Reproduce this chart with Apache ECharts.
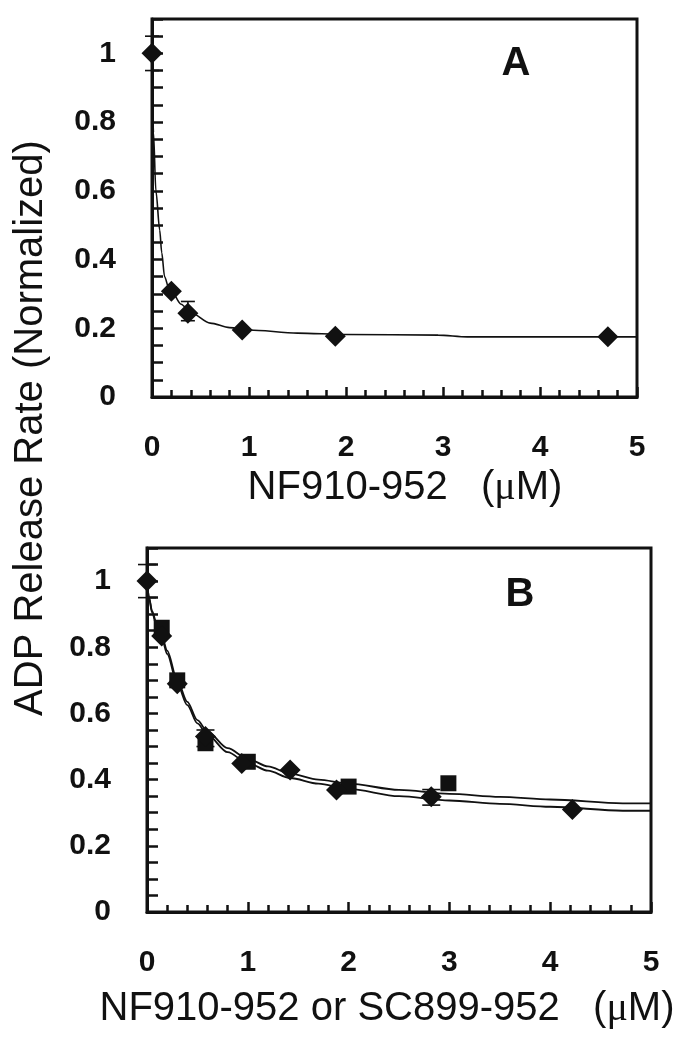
<!DOCTYPE html>
<html>
<head>
<meta charset="utf-8">
<script src="https://cdn.jsdelivr.net/npm/echarts@6/dist/echarts.min.js"></script>
<style>
  html, body { margin: 0; padding: 0; background: #fff; }
  #chart { width: 690px; height: 1050px; }
</style>
</head>
<body>
<div id="chart"></div>
<script>
// ---------- data ----------
const xTicks = [0, 1, 2, 3, 4, 5];
const yTicks = [0, 0.2, 0.4, 0.6, 0.8, 1];

// Panel A: NF910-952
const aPtsX = [0, 0.2, 0.37, 0.93, 1.89, 4.70];
const aPtsY = [1.0, 0.308, 0.244, 0.195, 0.177, 0.175];
const aErrX = [0, 0.37];
const aErrLo = [0.95, 0.222];
const aErrHi = [1.05, 0.278];
const aFitX = [0, 0.015, 0.04, 0.08, 0.1, 0.13, 0.17, 0.2, 0.3, 0.4, 0.6, 0.8, 1.0, 1.5, 2.0, 2.95, 3.25, 5.0];
const aFitY = [1.0, 0.77, 0.6, 0.485, 0.42, 0.35, 0.32, 0.308, 0.27, 0.245, 0.215, 0.202, 0.195, 0.186, 0.182, 0.18, 0.175, 0.175];

// Panel B: NF910-952 (diamonds) and SC899-952 (squares)
const bDiaX = [0, 0.146, 0.30, 0.58, 0.94, 1.42, 1.88, 2.82, 4.22];
const bDiaY = [1.0, 0.834, 0.69, 0.53, 0.449, 0.429, 0.369, 0.348, 0.310];
const bSqX = [0.146, 0.30, 0.58, 1.0, 2.0, 2.99];
const bSqY = [0.859, 0.70, 0.51, 0.454, 0.379, 0.389];
const bErrX = [0, 0.58, 2.82];
const bErrLo = [0.95, 0.50, 0.323];
const bErrHi = [1.05, 0.55, 0.37];
const bFitX = [0, 0.02, 0.05, 0.1, 0.15, 0.2, 0.3, 0.4, 0.5, 0.6, 0.8, 1.0, 1.2, 1.42, 1.7, 2.0, 2.5, 3.0, 3.5, 4.0, 4.72, 5.0];
const bFitUpperY = [1.0, 0.95, 0.91, 0.865, 0.83, 0.79, 0.70, 0.635, 0.58, 0.545, 0.495, 0.463, 0.44, 0.418, 0.40, 0.388, 0.369, 0.357, 0.348, 0.340, 0.328, 0.328];
const bFitLowerY = [1.0, 0.95, 0.905, 0.86, 0.825, 0.78, 0.69, 0.625, 0.57, 0.535, 0.483, 0.45, 0.427, 0.405, 0.388, 0.372, 0.350, 0.337, 0.327, 0.318, 0.306, 0.306];

// ---------- helpers ----------
const INK = '#111';
const FONT = '"Liberation Sans", Arial, Helvetica, sans-serif';
const zip = (xs, ys) => xs.map((x, i) => [x, ys[i]]);
const zip3 = (xs, a, b) => xs.map((x, i) => [x, a[i], b[i]]);

function yFmt(v) {
  for (const t of yTicks) if (Math.abs(v - t) < 1e-6) return String(t);
  return '';
}
function xFmt(v) {
  for (const t of xTicks) if (Math.abs(v - t) < 1e-6) return String(t);
  return '';
}

function xAxisCfg(gi) {
  return {
    type: 'value', gridIndex: gi, min: 0, max: 5, interval: 1,
    axisLine: { show: true, onZero: false, lineStyle: { color: INK, width: 3 } },
    axisTick: { show: true, inside: true, length: 10, lineStyle: { color: INK, width: 2.5 } },
    minorTick: { show: true, splitNumber: 5, length: 7, lineStyle: { color: INK, width: 2.5 } },
    splitLine: { show: false },
    axisLabel: { formatter: xFmt, fontFamily: FONT, fontWeight: 'bold', fontSize: 30, color: INK, margin: 36 }
  };
}
function yAxisCfg(gi) {
  return {
    type: 'value', gridIndex: gi, min: 0, max: 1.1, interval: 0.05,
    axisLine: { show: true, onZero: false, lineStyle: { color: INK, width: 3 } },
    axisTick: { show: true, inside: true, length: 11, lineStyle: { color: INK, width: 2.5 } },
    splitLine: { show: false },
    axisLabel: { formatter: yFmt, fontFamily: FONT, fontWeight: 'bold', fontSize: 30, color: INK, margin: 36, showMaxLabel: true }
  };
}

function errRender(capHalf) {
  return function (params, api) {
    const x = api.value(0), lo = api.value(1), hi = api.value(2);
    const p1 = api.coord([x, lo]);
    const p2 = api.coord([x, hi]);
    const st = { stroke: INK, lineWidth: 1.6 };
    return {
      type: 'group',
      children: [
        { type: 'line', shape: { x1: p1[0], y1: p1[1], x2: p2[0], y2: p2[1] }, style: st },
        { type: 'line', shape: { x1: p1[0] - capHalf, y1: p1[1], x2: p1[0] + capHalf, y2: p1[1] }, style: st },
        { type: 'line', shape: { x1: p2[0] - capHalf, y1: p2[1], x2: p2[0] + capHalf, y2: p2[1] }, style: st }
      ]
    };
  };
}

const chart = echarts.init(document.getElementById('chart'), null, { renderer: 'canvas' });

const option = {
  backgroundColor: '#fff',
  animation: false,
  grid: [
    { left: 152, top: 19, width: 485, height: 378, show: true, borderColor: INK, borderWidth: 3, backgroundColor: 'transparent' },
    { left: 147, top: 548, width: 504, height: 364, show: true, borderColor: INK, borderWidth: 3, backgroundColor: 'transparent' }
  ],
  xAxis: [xAxisCfg(0), xAxisCfg(1)],
  yAxis: [yAxisCfg(0), yAxisCfg(1)],
  series: [
    // Panel A
    { type: 'line', xAxisIndex: 0, yAxisIndex: 0, data: zip(aFitX, aFitY), showSymbol: false, symbol: 'none',
      smooth: 0.3, smoothMonotone: 'x', lineStyle: { color: INK, width: 1.6 }, z: 2 },
    { type: 'custom', xAxisIndex: 0, yAxisIndex: 0, data: zip3(aErrX, aErrLo, aErrHi),
      encode: { x: 0, y: [1, 2] }, renderItem: errRender(7), z: 3 },
    { type: 'scatter', xAxisIndex: 0, yAxisIndex: 0, data: zip(aPtsX, aPtsY), symbol: 'diamond', symbolSize: 21,
      itemStyle: { color: INK, opacity: 1 }, z: 4 },
    // Panel B
    { type: 'line', xAxisIndex: 1, yAxisIndex: 1, data: zip(bFitX, bFitUpperY), showSymbol: false, symbol: 'none',
      smooth: 0.3, smoothMonotone: 'x', lineStyle: { color: INK, width: 1.8 }, z: 2 },
    { type: 'line', xAxisIndex: 1, yAxisIndex: 1, data: zip(bFitX, bFitLowerY), showSymbol: false, symbol: 'none',
      smooth: 0.3, smoothMonotone: 'x', lineStyle: { color: INK, width: 1.8 }, z: 2 },
    { type: 'custom', xAxisIndex: 1, yAxisIndex: 1, data: zip3(bErrX, bErrLo, bErrHi),
      encode: { x: 0, y: [1, 2] }, renderItem: errRender(9), z: 3 },
    { type: 'scatter', xAxisIndex: 1, yAxisIndex: 1, data: zip(bSqX, bSqY), symbol: 'rect', symbolSize: 16,
      itemStyle: { color: INK, opacity: 1 }, z: 4 },
    { type: 'scatter', xAxisIndex: 1, yAxisIndex: 1, data: zip(bDiaX, bDiaY), symbol: 'diamond', symbolSize: 21,
      itemStyle: { color: INK, opacity: 1 }, z: 5 }
  ],
  graphic: [
    { type: 'text', x: 516, y: 64, style: { text: 'A', font: 'bold 40px ' + FONT, fill: INK, align: 'center', verticalAlign: 'middle', textAlign: 'center', textVerticalAlign: 'middle' } },
    { type: 'text', x: 520, y: 595, style: { text: 'B', font: 'bold 40px ' + FONT, fill: INK, align: 'center', verticalAlign: 'middle', textAlign: 'center', textVerticalAlign: 'middle' } },
    { type: 'text', x: 31, y: 428, rotation: Math.PI / 2,
      style: { text: 'ADP Release Rate (Normalized)', font: '40px ' + FONT, fill: INK, align: 'center', verticalAlign: 'middle', textAlign: 'center', textVerticalAlign: 'middle' } },
    { type: 'text', x: 405, y: 488,
      style: { text: '{a|NF910-952   (}{m|μ}{a|M)}', fill: INK, align: 'center', verticalAlign: 'middle', textAlign: 'center', textVerticalAlign: 'middle',
        rich: { a: { fontFamily: FONT, fontSize: 40, fill: INK, color: INK }, m: { fontFamily: '"Liberation Serif", "Times New Roman", serif', fontSize: 40, fill: INK, color: INK } } } },
    { type: 'text', x: 387, y: 1009,
      style: { text: '{a|NF910-952 or SC899-952   (}{m|μ}{a|M)}', fill: INK, align: 'center', verticalAlign: 'middle', textAlign: 'center', textVerticalAlign: 'middle',
        rich: { a: { fontFamily: FONT, fontSize: 40, fill: INK, color: INK }, m: { fontFamily: '"Liberation Serif", "Times New Roman", serif', fontSize: 40, fill: INK, color: INK } } } }
  ]
};
chart.setOption(option);
</script>
</body>
</html>
